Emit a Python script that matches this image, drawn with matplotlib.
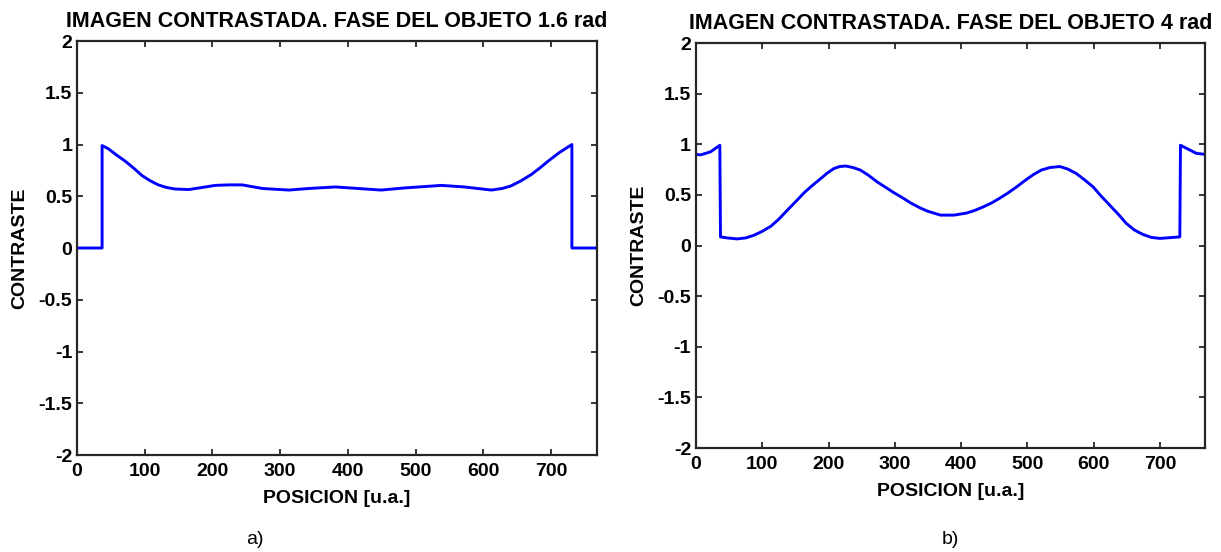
import matplotlib
matplotlib.use("Agg")
import matplotlib.pyplot as plt

plt.rcParams["font.family"] = ["Liberation Sans", "DejaVu Sans"]

# phase 1.6 rad profile
pos_a = [0, 37, 37, 46, 58, 71, 84, 96, 108, 120, 132, 145, 165, 185, 204, 224, 244, 274,
         313, 342, 382, 404, 449, 483, 538, 572, 612, 628, 641, 656, 671, 684, 696,
         712, 731, 731, 768]
con_a = [0, 0, 0.99, 0.96, 0.90, 0.84, 0.77, 0.70, 0.65, 0.61, 0.585, 0.57, 0.565, 0.585,
         0.605, 0.61, 0.61, 0.575, 0.56, 0.575, 0.59, 0.58, 0.56, 0.58, 0.605, 0.59,
         0.56, 0.575, 0.60, 0.65, 0.71, 0.775, 0.84, 0.92, 1.0, 0, 0]

# phase 4 rad profile
pos_b = [0, 7, 22, 36, 37, 47, 62, 75, 87, 100, 113, 125, 138, 150, 163, 175, 188, 198,
         208, 217, 226, 237, 248, 260, 273, 286, 299, 312, 324, 337, 349, 369, 389,
         408, 420, 433, 446, 459, 471, 484, 496, 509, 521, 534, 549, 561, 574, 586,
         599, 611, 624, 637, 649, 661, 674, 687, 700, 730, 731, 740, 755, 768]
con_b = [0.90, 0.895, 0.925, 0.99, 0.085, 0.075, 0.065, 0.075, 0.10, 0.14, 0.19, 0.26,
         0.35, 0.43, 0.52, 0.59, 0.66, 0.715, 0.76, 0.78, 0.785, 0.77, 0.745, 0.695,
         0.63, 0.575, 0.52, 0.47, 0.42, 0.375, 0.34, 0.30, 0.30, 0.32, 0.345, 0.38,
         0.42, 0.47, 0.52, 0.58, 0.64, 0.70, 0.745, 0.77, 0.78, 0.755, 0.71, 0.65,
         0.58, 0.49, 0.40, 0.31, 0.22, 0.155, 0.11, 0.08, 0.07, 0.085, 0.99, 0.96,
         0.91, 0.90]

titles = ["IMAGEN CONTRASTADA. FASE DEL OBJETO 1.6 rad",
          "IMAGEN CONTRASTADA. FASE DEL OBJETO 4 rad"]
captions = ["a)", "b)"]
x_ticks = [0, 100, 200, 300, 400, 500, 600, 700]
y_ticks = [-2, -1.5, -1, -0.5, 0, 0.5, 1, 1.5, 2]
y_tick_labels = ["-2", "-1.5", "-1", "-0.5", "0", "0.5", "1", "1.5", "2"]

fig = plt.figure(figsize=(12.21, 5.52), dpi=100)
boxes = [[0.0631, 0.1757, 0.4258, 0.75], [0.5700, 0.1884, 0.4169, 0.7337]]
caption_x = [255 / 1221, 950 / 1221]

for i, (xs, ys) in enumerate([(pos_a, con_a), (pos_b, con_b)]):
    ax = fig.add_axes(boxes[i])
    ax.plot(xs, ys, color="#0000ff", linewidth=2.1)
    ax.set_xlim(0, 768)
    ax.set_ylim(-2, 2)
    ax.set_xticks(x_ticks)
    ax.set_yticks(y_ticks)
    ax.set_yticklabels(y_tick_labels)
    ax.tick_params(direction="in", top=True, right=True, length=4.5, width=1.3,
                   color="#262626", labelsize=14, pad=3.5)
    ax.tick_params(axis="x", pad=6)
    for lbl in ax.get_xticklabels() + ax.get_yticklabels():
        lbl.set_fontweight("bold")
    for sp in ax.spines.values():
        sp.set_linewidth(1.6)
        sp.set_color("#262626")
    ax.set_title(titles[i], fontsize=15.5, fontweight="bold", pad=10)
    ax.set_xlabel("POSICION [u.a.]", fontsize=14, fontweight="bold", labelpad=7)
    ax.set_ylabel("CONTRASTE", fontsize=14, fontweight="bold", labelpad=7)
    fig.text(caption_x[i], 1 - 539 / 552, captions[i], fontsize=14,
             ha="center", va="center")

fig.savefig("out.png", dpi=100)
